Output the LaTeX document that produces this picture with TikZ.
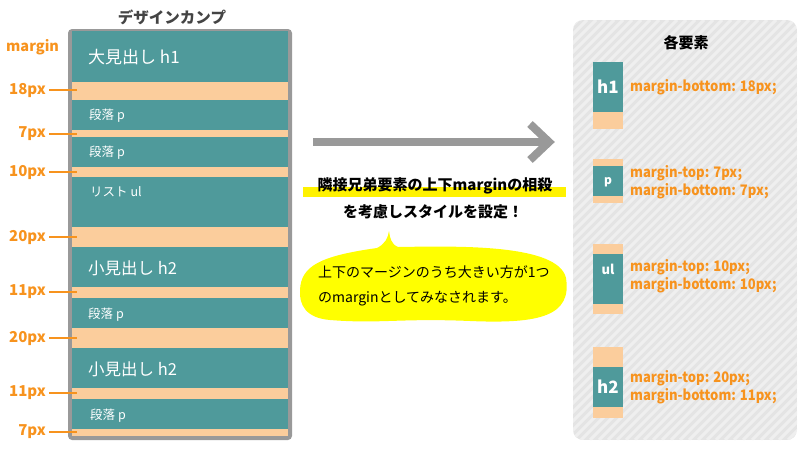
\documentclass[tikz,border=0pt]{standalone}
\usepackage{fontspec}
\setmainfont{Noto Sans CJK JP}
\newfontfamily\condfont{Noto Sans CJK JP}[FakeStretch=0.9]
\definecolor{teal1}{HTML}{4F9A9B}
\definecolor{mband}{HTML}{FBCD9C}
\definecolor{otext}{HTML}{F7931E}
\definecolor{gborder}{HTML}{999999}
\definecolor{ttl}{HTML}{444444}
\definecolor{hl}{HTML}{FFF200}
\definecolor{bubble}{HTML}{FFFF00}
\definecolor{panelbg}{HTML}{E4E4E4}
\definecolor{stripe}{HTML}{EFEFEF}
\tikzset{
  blk/.style={fill=teal1, draw=none},
  mrg/.style={fill=mband, draw=none},
  bandtext/.style={anchor=west, text=white, inner sep=0pt},
  pxlabel/.style={anchor=east, text=otext, font=\fontsize{15}{18}\selectfont\bfseries, inner sep=0pt},
  pxline/.style={draw=otext, line width=2pt},
  proplabel/.style={anchor=west, align=left, text=otext, font=\condfont\fontsize{14.5}{17.5}\selectfont\bfseries, inner sep=0pt},
  eltext/.style={text=white, font=\bfseries, inner sep=0pt},
}
\begin{document}
\begin{tikzpicture}[x=1pt,y=-1pt]
\useasboundingbox (0,0) rectangle (800,450);
% ---------- left panel ----------
\node[text=ttl, font=\fontsize{15.5}{18}\selectfont\bfseries] (ttl) at (172,17) {デザインカンプ};
\fill[gborder, rounded corners=4pt] (68,29) rectangle (292,440);
\path[blk] (72,31) rectangle (288,82);
\path[mrg] (72,82) rectangle (288,100);
\path[blk] (72,100) rectangle (288,130);
\path[mrg] (72,130) rectangle (288,137);
\path[blk] (72,137) rectangle (288,167);
\path[mrg] (72,167) rectangle (288,177);
\path[blk] (72,177) rectangle (288,227);
\path[mrg] (72,227) rectangle (288,247);
\path[blk] (72,247) rectangle (288,287);
\path[mrg] (72,287) rectangle (288,298);
\path[blk] (72,298) rectangle (288,328);
\path[mrg] (72,328) rectangle (288,348);
\path[blk] (72,348) rectangle (288,388);
\path[mrg] (72,388) rectangle (288,399);
\path[blk] (72,399) rectangle (288,429);
\path[mrg] (72,429) rectangle (288,436);

\node[bandtext, font=\fontsize{17}{20}\selectfont] (t1) at (88,57) {大見出し h1};
\node[bandtext, font=\fontsize{12.5}{14}\selectfont] (t2) at (89,116) {段落 p};
\node[bandtext, font=\fontsize{12.5}{14}\selectfont] (t3) at (89,153) {段落 p};
\node[bandtext, font=\fontsize{12.5}{14}\selectfont] (t4) at (90,192) {リスト ul};
\node[bandtext, font=\fontsize{16.5}{20}\selectfont] (t5) at (88,268) {小見出し h2};
\node[bandtext, font=\fontsize{12.5}{14}\selectfont] (t6) at (88,315) {段落 p};
\node[bandtext, font=\fontsize{16.5}{20}\selectfont] (t7) at (88,369) {小見出し h2};
\node[bandtext, font=\fontsize{12.5}{14}\selectfont] (t8) at (90,416) {段落 p};

\node[anchor=west, text=otext, font=\fontsize{14.5}{18}\selectfont\bfseries, inner sep=0pt] (mlab) at (6,47) {margin};
\foreach \n/\y/\t in {a/90/18px, b/134/7px, c/172/10px, d/237/20px, e/292/11px, f/338/20px, g/393/11px, h/432/7px}{
  \node[pxlabel] (l\n) at (46,\y) {\t};
  \coordinate (e\n) at (77,\y);
  \draw[pxline] ([xshift=3pt]l\n.east) -- (e\n);
}

% ---------- arrow ----------
\coordinate (as) at (313,142);
\coordinate (ae) at (549,142);
\draw[gborder, line width=8pt] (as) -- (ae);
\draw[gborder, line width=8pt, line join=miter] (530,124) -- (ae) -- (530,160);

% ---------- highlighted text ----------
\fill[hl] (303,187) rectangle (566,197);
\node[font=\fontsize{15}{18}\selectfont\bfseries, inner sep=0pt] (h1t) at (435,186) {隣接兄弟要素の上下marginの相殺};
\node[font=\fontsize{15}{18}\selectfont\bfseries, inner sep=0pt] (h2t) at (433,212) {を考慮しスタイルを設定！};

% ---------- speech bubble ----------
\fill[bubble] (377,248) .. controls (385,244) and (388,238) .. (389,231)
  .. controls (390,238) and (391,244) .. (398,247)
  .. controls (460,246) and (558,244) .. (566,278)
  .. controls (572,316) and (540,324) .. (470,321)
  .. controls (400,318) and (380,324) .. (330,320)
  .. controls (306,318) and (299,305) .. (300,290)
  .. controls (301,266) and (320,256) .. (377,248) -- cycle;
\node[anchor=west, align=left, font=\fontsize{14}{25}\selectfont, inner sep=0pt] (bub) at (318,286) {上下のマージンのうち大きい方が1つ\\のmarginとしてみなされます。};

% ---------- right panel ----------
\begin{scope}
\clip[rounded corners=10pt] (573,20) rectangle (797,440);
\fill[panelbg] (573,20) rectangle (797,440);
\foreach \i in {140,149,...,800}{
  \draw[stripe, line width=3pt] (\i,440) -- (\i+420,20);
}
\end{scope}
\node[font=\fontsize{15}{18}\selectfont\bfseries, inner sep=0pt] (ptl) at (686,43) {各要素};

% h1
\path[blk] (593,62) rectangle (623,112);
\path[mrg] (593,112) rectangle (623,129);
\node[eltext, font=\fontsize{17}{20}\selectfont\bfseries] (eh1) at (608,87) {h1};
\node[proplabel] (ph1) at (630,87) {margin-bottom: 18px;};
% p
\path[mrg] (593,159) rectangle (623,166);
\path[blk] (593,166) rectangle (623,196);
\path[mrg] (593,196) rectangle (623,203);
\node[eltext, font=\fontsize{12}{14}\selectfont\bfseries] (ep) at (608,182) {p};
\node[proplabel] (pp) at (630,182) {margin-top: 7px;\\margin-bottom: 7px;};
% ul
\path[mrg] (593,244) rectangle (623,254);
\path[blk] (593,254) rectangle (623,304);
\path[mrg] (593,304) rectangle (623,314);
\node[eltext, font=\fontsize{13}{15}\selectfont\bfseries] (eul) at (608,269) {ul};
\node[proplabel] (pul) at (630,276) {margin-top: 10px;\\margin-bottom: 10px;};
% h2
\path[mrg] (593,347) rectangle (623,367);
\path[blk] (593,367) rectangle (623,407);
\path[mrg] (593,407) rectangle (623,418);
\node[eltext, font=\fontsize{17}{20}\selectfont\bfseries] (eh2) at (608,387) {h2};
\node[proplabel] (ph2) at (630,387) {margin-top: 20px;\\margin-bottom: 11px;};
\end{tikzpicture}
\end{document}
